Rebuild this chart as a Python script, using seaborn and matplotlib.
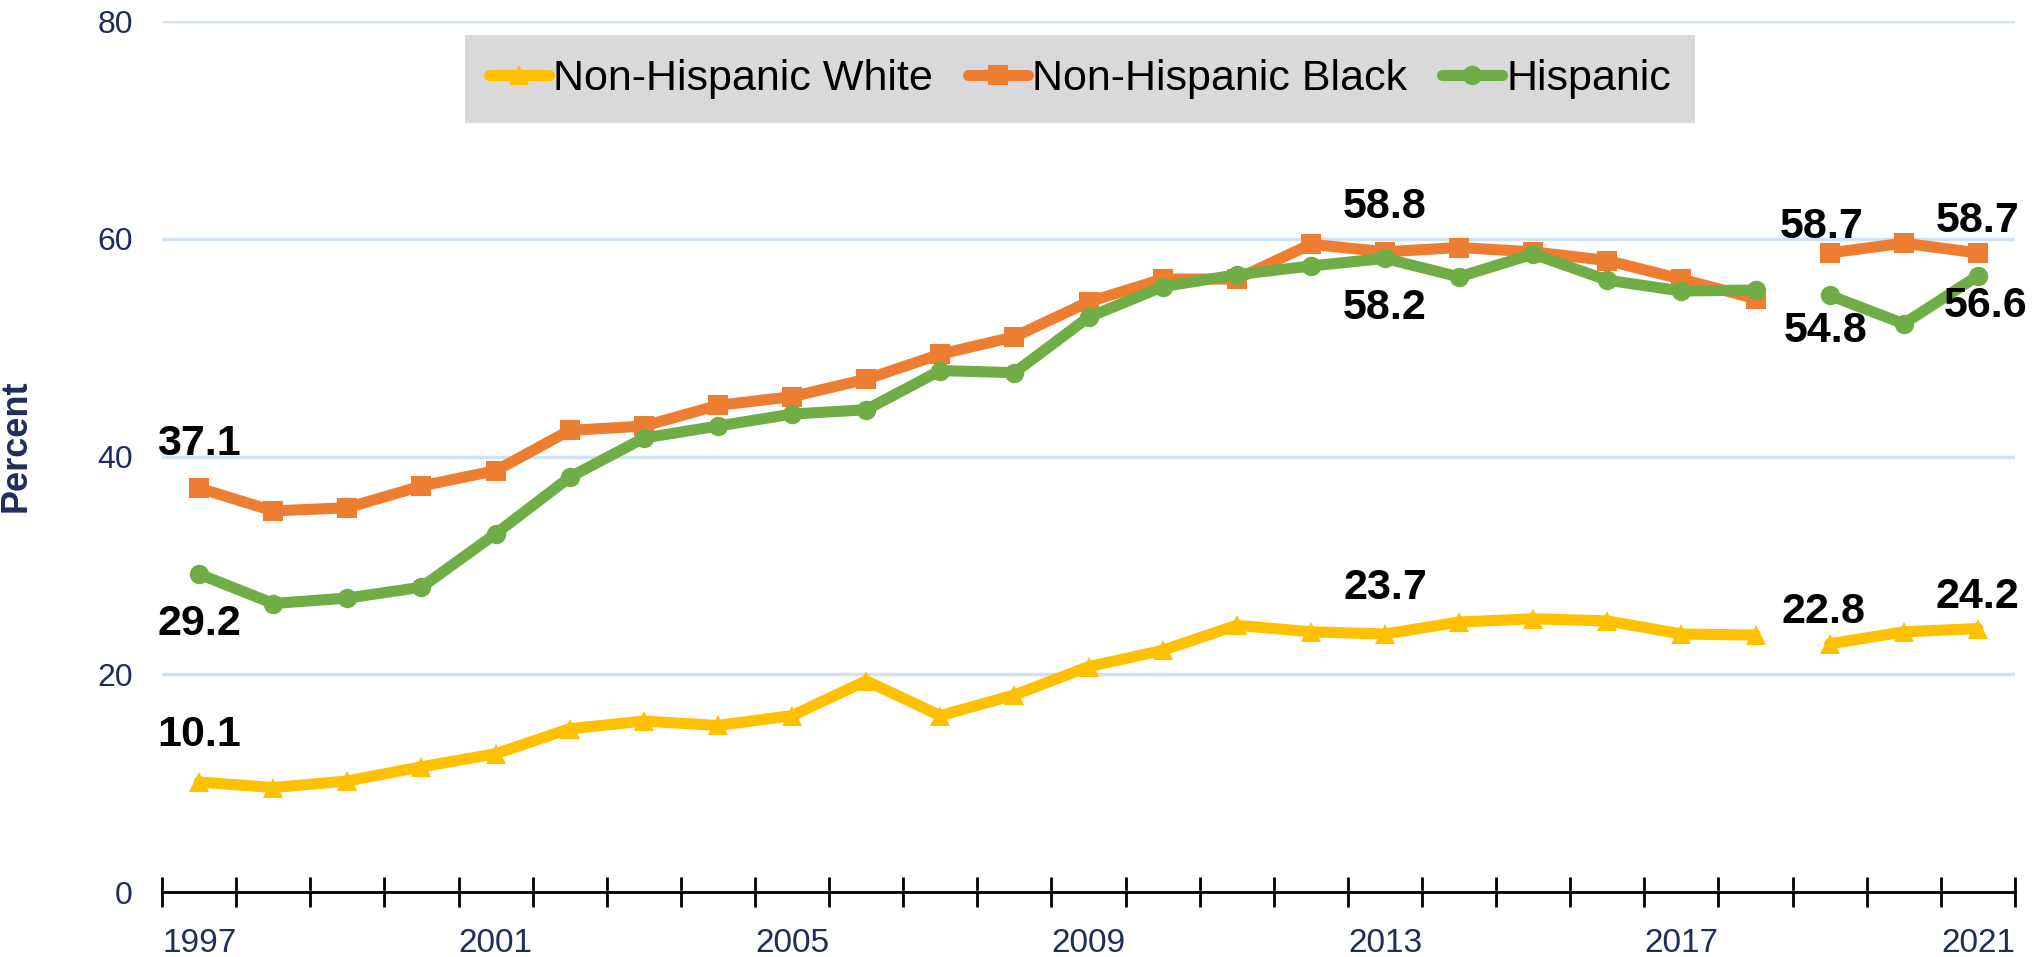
import pandas as pd
import seaborn as sns
import matplotlib.pyplot as plt
from matplotlib.lines import Line2D
from matplotlib.ticker import FixedLocator

sns.set_theme(style='white')
plt.rcParams['font.family'] = ['Liberation Sans', 'DejaVu Sans']

# data
years = list(range(1997, 2022))
white = [10.1, 9.6, 10.2, 11.5, 12.7, 15.0, 15.7, 15.3, 16.2, 19.4, 16.2, 18.1, 20.7,
         22.2, 24.5, 23.9, 23.7, 24.8, 25.1, 24.9, 23.7, 23.6, 22.8, 23.9, 24.2]
black = [37.1, 35.0, 35.3, 37.3, 38.7, 42.4, 42.8, 44.7, 45.5, 47.1, 49.4, 51.0, 54.2,
         56.3, 56.3, 59.5, 58.8, 59.2, 58.8, 58.0, 56.3, 54.5, 58.7, 59.6, 58.7]
hispanic = [29.2, 26.5, 27.0, 28.0, 32.9, 38.1, 41.7, 42.8, 43.9, 44.3, 47.9, 47.7, 52.8,
            55.6, 56.7, 57.5, 58.2, 56.5, 58.6, 56.2, 55.2, 55.3, 54.8, 52.2, 56.6]
period = ['1997-2018'] * 22 + ['2019-2021'] * 3
groups = ['Non-Hispanic White', 'Non-Hispanic Black', 'Hispanic']
tick_years = [1997, 2001, 2005, 2009, 2013, 2017, 2021]

df = pd.concat([
    pd.DataFrame({'year': years, 'value': v, 'group': g, 'period': period})
    for g, v in zip(groups, [white, black, hispanic])
])

colors = {'Non-Hispanic White': '#FFC000', 'Non-Hispanic Black': '#ED7D31', 'Hispanic': '#70AD47'}
markers = {'Non-Hispanic White': '^', 'Non-Hispanic Black': 's', 'Hispanic': 'o'}
navy = '#1F2D5C'

# which points get a value label, and where (offset in pixels)
labels = [
    ('Non-Hispanic Black', 1997, 0, 44), ('Hispanic', 1997, 0, -50), ('Non-Hispanic White', 1997, 0, 47),
    ('Non-Hispanic Black', 2013, 0, 45), ('Hispanic', 2013, 0, -50), ('Non-Hispanic White', 2013, 0, 46),
    ('Non-Hispanic Black', 2019, -8, 26), ('Hispanic', 2019, -4, -36), ('Non-Hispanic White', 2019, -6, 32),
    ('Non-Hispanic Black', 2021, 0, 32), ('Hispanic', 2021, 8, -30), ('Non-Hispanic White', 2021, 0, 32),
]

fig = plt.figure(figsize=(20.39, 9.57), dpi=100)
ax = fig.add_axes([0.0795, 0.0679, 0.9087, 0.9101])

for g in groups:
    for p in df['period'].unique():
        sub = df[(df['group'] == g) & (df['period'] == p)]
        sns.lineplot(data=sub, x='year', y='value', ax=ax, color=colors[g],
                     marker=markers[g], markersize=14, markeredgewidth=0,
                     linewidth=8, legend=False, zorder=3)

for g, yr, dx, dy in labels:
    val = df[(df['group'] == g) & (df['year'] == yr)]['value'].iloc[0]
    ax.annotate('{:.1f}'.format(val), (yr, val), xytext=(dx, dy), textcoords='offset pixels',
                ha='center', va='center', fontsize=31, fontweight='bold', color='black', zorder=5)

ax.set_xlim(1996.5, 2021.5)
ax.set_ylim(0, 80)
ax.set_yticks([0, 20, 40, 60, 80])
ax.yaxis.grid(True, color='#D2E2F1', linewidth=2.5)
ax.set_axisbelow(True)
ax.tick_params(axis='y', length=0, pad=21, labelsize=23, labelcolor=navy)

ax.set_xticks(tick_years)
ax.xaxis.set_minor_locator(FixedLocator([y + 0.5 for y in range(1996, 2022)]))
ax.tick_params(axis='x', which='major', length=0, pad=26, labelsize=24, labelcolor=navy)
ax.tick_params(axis='x', which='minor', direction='inout', length=22, width=2, color='black', bottom=True)

for s in ['top', 'right', 'left']:
    ax.spines[s].set_visible(False)
ax.spines['bottom'].set_color('black')
ax.spines['bottom'].set_linewidth(2)

ax.set_xlabel('')
ax.set_ylabel('Percent', fontsize=26, fontweight='bold', color=navy)
ax.yaxis.set_label_coords(-0.0695, 0.512)

handles = [Line2D([], [], color=colors[g], marker=markers[g], markersize=14,
                  markeredgewidth=0, linewidth=8) for g in groups]
leg = fig.legend(handles, groups, loc='center', bbox_to_anchor=(0.5297, 0.9175), ncol=3,
                 fontsize=31, frameon=True, facecolor='#D9D9DC', edgecolor='none',
                 framealpha=1, fancybox=False, handlelength=1.4, handletextpad=0.1,
                 columnspacing=0.8, borderpad=0.55, labelcolor='black')

fig.savefig('out.png', dpi=100)
